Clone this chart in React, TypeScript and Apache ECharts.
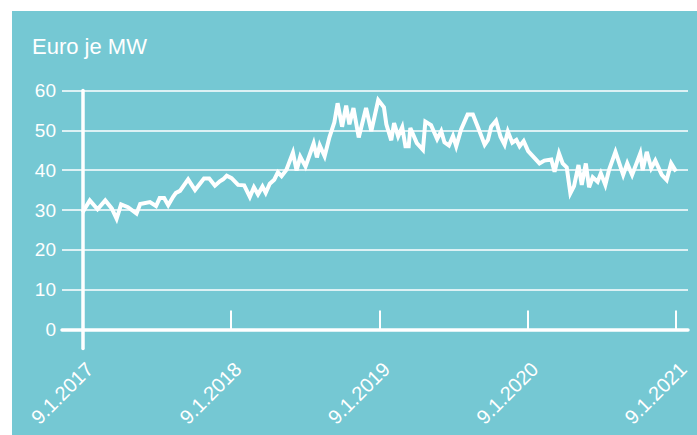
import React, { useEffect, useRef } from "react";
import * as echarts from "echarts";

const title = "Euro je MW";
const yTicks = [0, 10, 20, 30, 40, 50, 60];
const xTickLabels = ["9.1.2017", "9.1.2018", "9.1.2019", "9.1.2020", "9.1.2021"];
const startDate = "2017-01-09";
const endDate = "2021-01-09";

const dates = [
  "2017-01-09", "2017-01-27", "2017-02-15", "2017-03-06", "2017-03-22", "2017-04-03", "2017-04-14", "2017-05-01",
  "2017-05-22", "2017-05-31", "2017-06-24", "2017-07-09", "2017-07-18", "2017-07-29", "2017-08-08", "2017-08-20",
  "2017-08-27", "2017-09-06", "2017-09-26", "2017-10-13", "2017-11-04", "2017-11-17", "2017-12-01", "2017-12-13",
  "2017-12-21", "2017-12-30", "2018-01-11", "2018-01-27", "2018-02-11", "2018-02-25", "2018-03-07", "2018-03-17",
  "2018-03-28", "2018-04-05", "2018-04-15", "2018-04-26", "2018-05-05", "2018-05-14", "2018-05-26", "2018-06-11",
  "2018-06-20", "2018-06-29", "2018-07-12", "2018-08-01", "2018-08-09", "2018-08-16", "2018-08-28", "2018-09-09",
  "2018-09-21", "2018-09-29", "2018-10-10", "2018-10-20", "2018-10-28", "2018-11-07", "2018-11-20", "2018-12-08",
  "2018-12-21", "2019-01-07", "2019-01-21", "2019-01-27", "2019-02-08", "2019-02-15", "2019-02-25", "2019-03-07",
  "2019-03-15", "2019-03-23", "2019-03-27", "2019-04-12", "2019-04-27", "2019-05-03", "2019-05-17", "2019-06-01",
  "2019-06-11", "2019-06-19", "2019-06-30", "2019-07-10", "2019-07-18", "2019-07-30", "2019-08-15", "2019-08-28",
  "2019-09-09", "2019-09-26", "2019-10-04", "2019-10-12", "2019-10-24", "2019-11-04", "2019-11-14", "2019-11-22",
  "2019-12-03", "2019-12-13", "2019-12-21", "2019-12-31", "2020-01-11", "2020-02-08", "2020-02-20", "2020-03-08",
  "2020-03-16", "2020-03-27", "2020-04-05", "2020-04-15", "2020-04-24", "2020-05-03", "2020-05-14", "2020-05-22",
  "2020-06-01", "2020-06-09", "2020-06-18", "2020-06-30", "2020-07-08", "2020-07-19", "2020-07-28", "2020-08-13",
  "2020-09-01", "2020-09-11", "2020-09-23", "2020-10-13", "2020-10-19", "2020-10-29", "2020-11-09", "2020-11-19",
  "2020-12-05", "2020-12-17", "2020-12-28", "2021-01-09",
];

const prices = [
  29.4, 32.4, 30.2, 32.4, 30.4, 27.8, 31.4, 30.7,
  29.1, 31.5, 32.0, 31.0, 33.0, 33.0, 31.2, 33.3,
  34.3, 34.8, 37.7, 35.0, 37.9, 37.9, 36.1, 37.2,
  37.7, 38.6, 38.0, 36.3, 36.2, 33.3, 35.7, 33.9,
  35.9, 34.3, 36.6, 37.6, 39.5, 38.5, 40.1, 44.4,
  39.9, 43.4, 40.9, 46.7, 43.2, 46.2, 43.5, 48.3,
  52.0, 56.8, 50.9, 56.2, 51.5, 55.6, 48.2, 55.6,
  49.8, 57.6, 55.8, 51.5, 47.5, 51.8, 48.5, 50.8,
  46.0, 46.0, 50.6, 46.8, 45.1, 52.2, 51.3, 47.8,
  49.8, 47.0, 46.2, 48.6, 46.0, 50.2, 54.0, 54.0,
  50.9, 46.4, 47.6, 50.9, 52.4, 48.4, 46.4, 49.7,
  46.9, 47.6, 46.0, 47.3, 44.8, 41.7, 42.4, 42.7,
  39.6, 44.2, 41.7, 40.7, 34.2, 36.0, 41.3, 36.3,
  41.7, 35.7, 38.2, 37.1, 39.2, 36.3, 40.0, 44.6,
  38.8, 41.7, 38.8, 44.2, 40.0, 44.6, 40.5, 42.4,
  38.8, 37.5, 41.7, 39.7,
];

const DAY = 86400000;
const toDays = (s: string) => {
  const [y, m, d] = s.split("-").map(Number);
  const [y0, m0, d0] = startDate.split("-").map(Number);
  return (Date.UTC(y, m - 1, d) - Date.UTC(y0, m0 - 1, d0)) / DAY;
};

export default function App() {
  const ref = useRef<HTMLDivElement>(null);
  useEffect(() => {
    if (!ref.current) return;
    const chart = echarts.init(ref.current, null, { renderer: "svg" });
    const totalDays = toDays(endDate);
    const yearStep = totalDays / (xTickLabels.length - 1);
    const plotTop = 90.5;
    const plotBottom = 105.5;
    const tickLen = 19;
    const pxPerUnit = (435 - plotTop - plotBottom) / yTicks[yTicks.length - 1];
    const white = "#ffffff";
    const font = "'Liberation Sans', Arial, Helvetica, sans-serif";
    const data = dates.map((d, i) => [toDays(d), prices[i]]);
    chart.setOption({
      animation: false,
      backgroundColor: "transparent",
      textStyle: { fontFamily: font },
      title: {
        text: title,
        left: 32,
        top: 35,
        padding: 0,
        textStyle: { color: white, fontSize: 22, fontWeight: "normal", fontFamily: font },
      },
      grid: [
        { left: 62, right: 9, top: plotTop, bottom: plotBottom, containLabel: false },
        { left: 82.5, right: 21, top: plotTop, bottom: plotBottom - tickLen, containLabel: false },
      ],
      xAxis: [
        {
          gridIndex: 0,
          type: "value",
          min: 0,
          max: 1,
          axisLine: { show: true, lineStyle: { color: white, width: 3.5 } },
          axisTick: { show: false },
          axisLabel: { show: false },
          splitLine: { show: false },
        },
        {
          gridIndex: 1,
          type: "value",
          min: 0,
          max: totalDays,
          interval: yearStep,
          axisLine: { show: false },
          axisTick: { show: true, inside: true, length: tickLen, lineStyle: { color: white, width: 2 } },
          axisLabel: {
            show: true,
            rotate: 45,
            margin: 10,
            verticalAlign: "top",
            color: white,
            fontSize: 20,
            fontFamily: font,
            showMinLabel: true,
            showMaxLabel: true,
            formatter: (v: number) => xTickLabels[Math.round(v / yearStep)] ?? "",
          },
          splitLine: { show: false },
        },
      ],
      yAxis: [
        {
          gridIndex: 0,
          type: "value",
          min: yTicks[0],
          max: yTicks[yTicks.length - 1],
          interval: yTicks[1] - yTicks[0],
          axisLine: { show: false },
          axisTick: { show: false },
          axisLabel: { show: true, color: white, fontSize: 19, margin: 6, fontFamily: font },
          splitLine: { show: true, lineStyle: { color: white, width: 1.5 } },
        },
        {
          gridIndex: 1,
          type: "value",
          min: -tickLen / pxPerUnit,
          max: yTicks[yTicks.length - 1],
          axisLine: { show: true, lineStyle: { color: white, width: 3.5 } },
          axisTick: { show: false },
          axisLabel: { show: false },
          splitLine: { show: false },
        },
      ],
      series: [
        {
          type: "line",
          xAxisIndex: 1,
          yAxisIndex: 1,
          data,
          symbol: "none",
          lineStyle: { color: white, width: 4, join: "miter", miterLimit: 4 },
          z: 5,
        },
      ],
    });
    return () => chart.dispose();
  }, []);

  return (
    <div style={{ position: "fixed", left: 0, top: 0, width: 697, height: 435, background: "#ffffff" }}>
      <div style={{ position: "absolute", left: 12, top: 11, right: 0, bottom: 0, background: "#75c8d3" }} />
      <div ref={ref} style={{ position: "absolute", left: 0, top: 0, width: 697, height: 435 }} />
    </div>
  );
}
